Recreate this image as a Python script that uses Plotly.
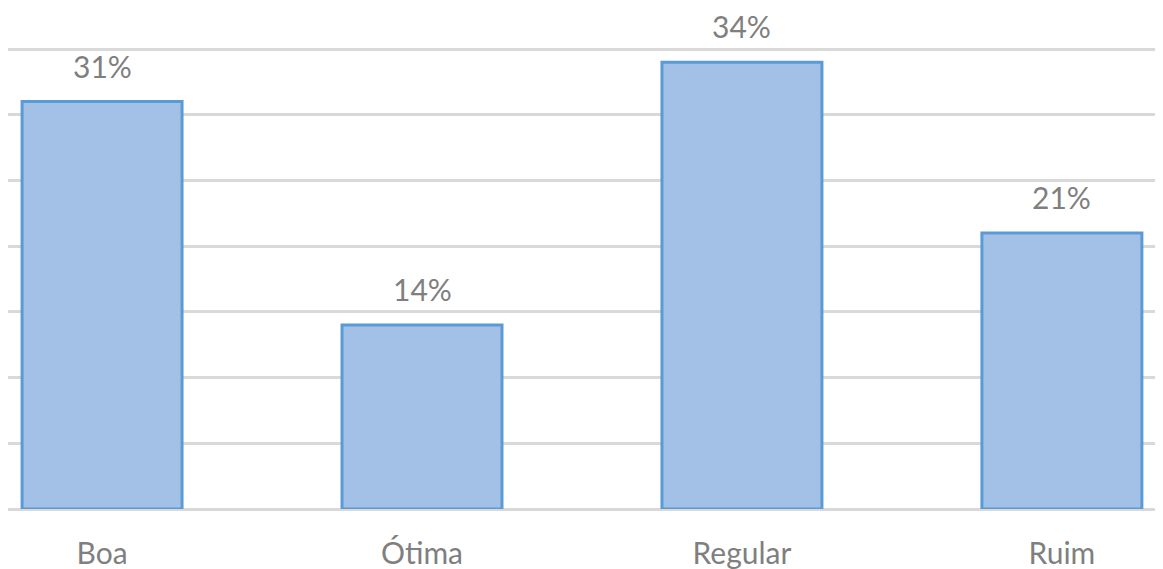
import plotly.graph_objects as go

categories = ["Boa", "Ótima", "Regular", "Ruim"]
values = [31, 14, 34, 21]
labels = [f"{v}%" for v in values]

font_family = "Lato, 'Open Sans', sans-serif"
gray = "#7f7f7f"

fig = go.Figure()
fig.add_trace(go.Bar(
    x=categories,
    y=values,
    marker=dict(color="#a3c1e7", line=dict(color="#5b9bd5", width=3)),
    hoverinfo="skip",
))

for c, v, t in zip(categories, values, labels):
    fig.add_annotation(x=c, y=v, text=t, showarrow=False, yanchor="bottom",
                       yshift=16, font=dict(family=font_family, size=30, color=gray))

fig.update_layout(
    width=1155, height=561,
    margin=dict(l=0, r=0, t=40, b=60),
    paper_bgcolor="white", plot_bgcolor="white",
    bargap=0.5,
    showlegend=False,
    xaxis=dict(range=[-0.294, 3.316], showgrid=False, zeroline=False, showline=False,
               ticks="outside", ticklen=18, tickcolor="rgba(0,0,0,0)",
               tickfont=dict(family=font_family, size=30, color=gray)),
    yaxis=dict(range=[0, 35.08], tickvals=[0, 5, 10, 15, 20, 25, 30, 35],
               showticklabels=False, showgrid=True,
               gridcolor="#d9d9d9", gridwidth=2.5, zeroline=True,
               zerolinecolor="#d9d9d9", zerolinewidth=2.5, showline=False),
)

fig.write_html("out.html")
